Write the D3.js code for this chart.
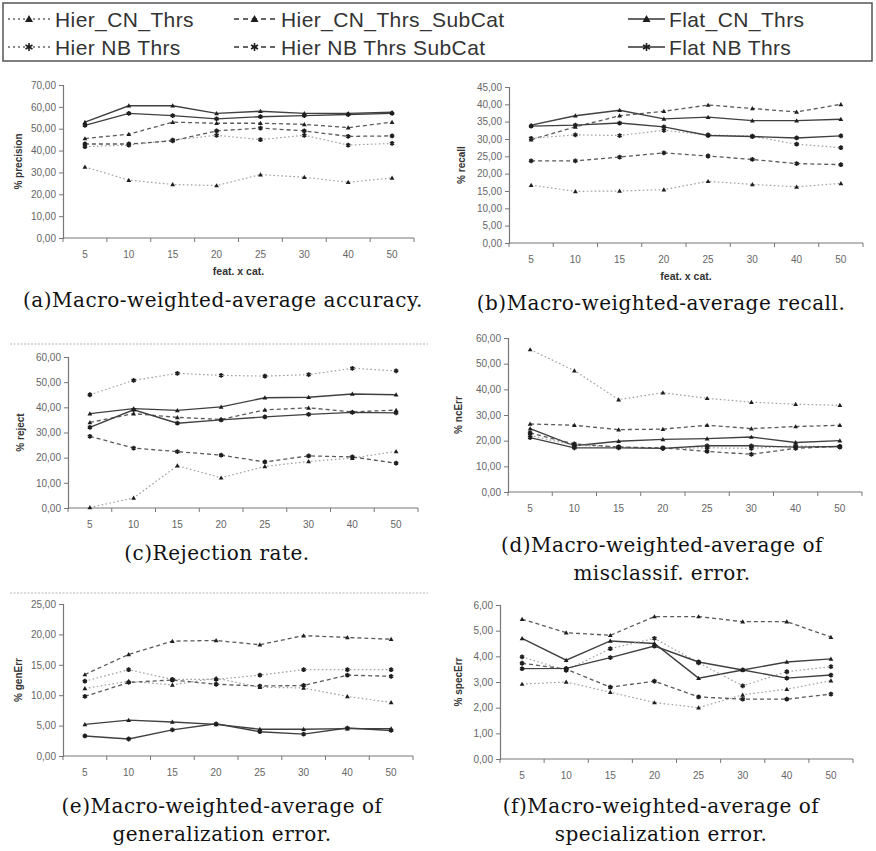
<!DOCTYPE html>
<html>
<head>
<meta charset="utf-8">
<script src="https://cdn.jsdelivr.net/npm/d3@7"></script>
<style>
  body { margin: 0; background: #fff; }
  svg { display: block; }
</style>
</head>
<body>
<svg id="fig" width="876" height="851"></svg>
<script>
// Feature-per-category settings on the x axis
const categories = ["5", "10", "15", "20", "25", "30", "40", "50"];

// Series order used by every value table below
const seriesNames = ["Hier_CN_Thrs", "Hier_CN_Thrs_SubCat", "Flat_CN_Thrs",
                     "Hier_NB_Thrs", "Hier_NB_Thrs_SubCat", "Flat_NB_Thrs"];
const legendLabels = ["Hier_CN_Thrs", "Hier_CN_Thrs_SubCat", "Flat_CN_Thrs",
                      "Hier NB Thrs", "Hier NB Thrs SubCat", "Flat NB Thrs"];

// (a) % precision
const precision = [
  [32.5, 26.5, 24.5, 24.0, 29.0, 27.8, 25.5, 27.5],
  [45.5, 47.5, 53.0, 52.5, 52.5, 52.0, 50.5, 53.0],
  [53.0, 60.5, 60.5, 57.0, 58.0, 57.0, 57.0, 57.5],
  [41.8, 42.5, 44.8, 47.0, 45.0, 47.0, 42.5, 43.3],
  [43.0, 43.0, 44.5, 49.0, 50.3, 49.0, 46.5, 46.7],
  [51.5, 57.0, 56.0, 54.5, 55.5, 56.0, 56.5, 57.0]
];
// (b) % recall
const recall = [
  [16.7, 14.9, 15.0, 15.4, 17.8, 16.9, 16.2, 17.2],
  [29.8, 33.5, 36.7, 38.0, 39.8, 38.8, 37.8, 40.0],
  [34.0, 36.7, 38.3, 35.8, 36.3, 35.3, 35.3, 35.7],
  [30.2, 31.2, 31.0, 32.5, 31.2, 30.8, 28.5, 27.5],
  [23.7, 23.7, 24.8, 26.0, 25.1, 24.1, 22.9, 22.6],
  [33.7, 34.0, 34.6, 33.5, 31.0, 30.7, 30.3, 30.9]
];
// (c) % reject
const reject = [
  [0.2, 4.0, 16.8, 12.0, 16.5, 18.5, 19.8, 22.5],
  [34.0, 37.5, 36.0, 35.2, 39.0, 39.8, 38.2, 38.9],
  [37.5, 39.5, 38.8, 40.2, 43.8, 44.0, 45.3, 45.0],
  [45.0, 50.7, 53.5, 52.7, 52.4, 53.0, 55.5, 54.5],
  [28.5, 23.8, 22.4, 21.0, 18.3, 20.7, 20.3, 17.8],
  [32.0, 39.0, 33.7, 35.0, 36.2, 37.2, 38.0, 37.8]
];
// (d) % ncErr
const ncErr = [
  [55.5, 47.3, 36.0, 38.7, 36.5, 35.0, 34.2, 33.8],
  [26.5, 26.0, 24.3, 24.5, 26.0, 24.7, 25.5, 26.0],
  [24.7, 18.0, 19.8, 20.5, 20.8, 21.4, 19.3, 20.0],
  [22.0, 18.2, 17.6, 17.0, 17.2, 17.0, 18.0, 17.5],
  [23.0, 18.7, 17.5, 17.2, 15.8, 14.7, 17.0, 17.8],
  [21.2, 17.2, 17.2, 17.0, 18.0, 18.0, 17.5, 17.7]
];
// (e) % genErr
const genErr = [
  [11.1, 12.3, 11.7, 12.8, 11.3, 11.2, 9.8, 8.8],
  [13.4, 16.7, 18.9, 19.0, 18.3, 19.8, 19.5, 19.2],
  [5.2, 5.9, 5.6, 5.2, 4.4, 4.4, 4.5, 4.5],
  [12.3, 14.2, 12.6, 12.6, 13.3, 14.2, 14.2, 14.2],
  [9.8, 12.1, 12.5, 11.8, 11.5, 11.6, 13.3, 13.1],
  [3.3, 2.8, 4.3, 5.3, 4.0, 3.6, 4.6, 4.2]
];
// (f) % specErr
const specErr = [
  [2.92, 3.00, 2.60, 2.20, 2.00, 2.50, 2.72, 3.05],
  [5.45, 4.92, 4.82, 5.55, 5.55, 5.35, 5.35, 4.75],
  [4.70, 3.85, 4.60, 4.50, 3.15, 3.47, 3.78, 3.90],
  [3.98, 3.45, 4.30, 4.70, 3.75, 2.85, 3.40, 3.60],
  [3.73, 3.50, 2.80, 3.03, 2.42, 2.33, 2.33, 2.53],
  [3.52, 3.53, 3.95, 4.40, 3.78, 3.47, 3.15, 3.27]
];

// y-axis tick values for each panel
const precisionTicks = [0, 10, 20, 30, 40, 50, 60, 70];
const recallTicks = [0, 5, 10, 15, 20, 25, 30, 35, 40, 45];
const rejectTicks = [0, 10, 20, 30, 40, 50, 60];
const ncErrTicks = [0, 10, 20, 30, 40, 50, 60];
const genErrTicks = [0, 5, 10, 15, 20, 25];
const specErrTicks = [0, 1, 2, 3, 4, 5, 6];

// Line style per series: Hier = dotted, SubCat = dashed, Flat = solid
const styleOf = i => {
  const kind = i % 3;
  if (kind === 0) return { stroke: "#a0a0a0", dash: "1.6,2.4", width: 1.2 };
  if (kind === 1) return { stroke: "#5a5a5a", dash: "4,3", width: 1.3 };
  return { stroke: "#404040", dash: null, width: 1.4 };
};
const isNB = i => i >= 3;

const commaFmt = d3.formatLocale({ decimal: ",", thousands: ".", grouping: [3], currency: ["", ""] }).format(".2f");

const svg = d3.select("#fig");

// Draw a marker (triangle for CN, asterisk for NB) at x,y
function marker(g, x, y, nb, r) {
  if (nb) {
    const a = r * 0.87, b = r * 0.5;
    g.append("path")
      .attr("d", `M${x},${y - r}L${x},${y + r}M${x - a},${y - b}L${x + a},${y + b}M${x - a},${y + b}L${x + a},${y - b}`)
      .attr("stroke", "#1e1e1e").attr("stroke-width", 1.6).attr("fill", "none");
  } else {
    g.append("path")
      .attr("d", `M${x},${y - r}L${x + r},${y + r * 0.75}L${x - r},${y + r * 0.75}Z`)
      .attr("fill", "#1e1e1e");
  }
}

// ---------- Legend ----------
const legend = svg.append("g");
legend.append("rect").attr("x", 3).attr("y", 3).attr("width", 869).attr("height", 58)
  .attr("fill", "#fff").attr("stroke", "#555").attr("stroke-width", 1.5);
const legCols = [{ x0: 8, x1: 50, tx: 55 }, { x0: 234, x1: 275, tx: 281 }, { x0: 628, x1: 665, tx: 669 }];
const legRows = [19, 47];
legendLabels.forEach((lab, i) => {
  const c = legCols[i % 3], ry = legRows[Math.floor(i / 3)];
  legend.append("line").attr("x1", c.x0).attr("x2", c.x1).attr("y1", ry).attr("y2", ry)
    .attr("stroke", i % 3 === 0 ? "#666" : "#333").attr("stroke-width", 1.5)
    .attr("stroke-dasharray", i % 3 === 0 ? "2,3" : (i % 3 === 1 ? "5,4" : null));
  marker(legend, (c.x0 + c.x1) / 2, ry, isNB(i), 4);
  legend.append("text").attr("x", c.tx).attr("y", ry + 8)
    .attr("font-family", "Liberation Sans, Arial, sans-serif").attr("font-size", 21)
    .attr("letter-spacing", 0.4).attr("fill", "#333").text(lab);
});

// ---------- Panels ----------
const panels = [
  { values: precision, ticks: precisionTicks, max: 70, x0: 63, x1: 414, yb: 238, yt: 85, title: "% precision", tx: 18, xTitle: true,
    caption: ["(a)Macro-weighted-average accuracy."], cx: 223, cy: 307 },
  { values: recall, ticks: recallTicks, max: 45, x0: 509, x1: 863, yb: 243, yt: 87, title: "% recall", tx: 461, xTitle: true,
    caption: ["(b)Macro-weighted-average recall."], cx: 661, cy: 310 },
  { values: reject, ticks: rejectTicks, max: 60, x0: 68, x1: 418, yb: 508, yt: 357, title: "% reject", tx: 20, xTitle: false,
    caption: ["(c)Rejection rate."], cx: 217, cy: 560, topRule: 344 },
  { values: ncErr, ticks: ncErrTicks, max: 60, x0: 508, x1: 862, yb: 492, yt: 338, title: "% ncErr", tx: 458, xTitle: false,
    caption: ["(d)Macro-weighted-average of", "misclassif. error."], cx: 662, cy: 552 },
  { values: genErr, ticks: genErrTicks, max: 25, x0: 63, x1: 413, yb: 756, yt: 604, title: "% genErr", tx: 18, xTitle: false,
    caption: ["(e)Macro-weighted-average of", "generalization error."], cx: 222, cy: 813, topRule: 593 },
  { values: specErr, ticks: specErrTicks, max: 6, x0: 500, x1: 853, yb: 759, yt: 605, title: "% specErr", tx: 458, xTitle: false,
    caption: ["(f)Macro-weighted-average of", "specialization error."], cx: 661, cy: 813 }
];

const axisFont = "Liberation Sans, Arial, sans-serif";

panels.forEach(p => {
  const g = svg.append("g");
  const x = d3.scaleBand().domain(categories).range([p.x0, p.x1]);
  const y = d3.scaleLinear().domain([0, p.max]).range([p.yb, p.yt]);

  if (p.topRule) {
    g.append("line").attr("x1", 10).attr("x2", 428).attr("y1", p.topRule).attr("y2", p.topRule)
      .attr("stroke", "#b5b5b5").attr("stroke-width", 1.2).attr("stroke-dasharray", "2,1.5");
  }

  // y axis with outward ticks and comma-decimal labels
  const yAxis = d3.axisLeft(y).tickValues(p.ticks).tickSize(4).tickPadding(3).tickFormat(commaFmt);
  const ya = g.append("g").attr("transform", `translate(${p.x0},0)`).call(yAxis);
  ya.select(".domain").attr("stroke", "#777").attr("stroke-width", 1.2);
  ya.selectAll(".tick line").attr("stroke", "#777");
  ya.selectAll(".tick text").attr("font-family", axisFont).attr("font-size", 10).attr("fill", "#666");

  // x axis: category labels, tick marks between categories
  const xa = g.append("g").attr("transform", `translate(0,${p.yb})`);
  xa.append("line").attr("x1", p.x0).attr("x2", p.x1).attr("stroke", "#777").attr("stroke-width", 1.2);
  d3.range(categories.length + 1).forEach(k => {
    const bx = p.x0 + k * x.step();
    xa.append("line").attr("x1", bx).attr("x2", bx).attr("y1", 0).attr("y2", 4).attr("stroke", "#777");
  });
  xa.selectAll("text.cat").data(categories).join("text").attr("class", "cat")
    .attr("x", d => x(d) + x.bandwidth() / 2).attr("y", 20)
    .attr("text-anchor", "middle").attr("font-family", axisFont).attr("font-size", 10).attr("fill", "#666")
    .text(d => d);

  if (p.xTitle) {
    g.append("text").attr("x", (p.x0 + p.x1) / 2).attr("y", p.yb + 37).attr("text-anchor", "middle")
      .attr("font-family", axisFont).attr("font-size", 10.5).attr("font-weight", "bold").attr("fill", "#333")
      .text("feat. x cat.");
  }
  g.append("text").attr("transform", `translate(${p.tx + 4},${(p.yb + p.yt) / 2}) rotate(-90)`)
    .attr("text-anchor", "middle").attr("font-family", axisFont).attr("font-size", 10).attr("font-weight", "bold")
    .attr("fill", "#333").text(p.title);

  // series lines and markers
  const line = d3.line().x((d, k) => x(categories[k]) + x.bandwidth() / 2).y(d => y(d));
  p.values.forEach((vals, i) => {
    const st = styleOf(i);
    g.append("path").datum(vals).attr("d", line).attr("fill", "none")
      .attr("stroke", st.stroke).attr("stroke-width", st.width).attr("stroke-dasharray", st.dash);
  });
  p.values.forEach((vals, i) => {
    vals.forEach((v, k) => marker(g, x(categories[k]) + x.bandwidth() / 2, y(v), isNB(i), 2.4));
  });

  // caption
  p.caption.forEach((line, li) => {
    g.append("text").attr("x", p.cx).attr("y", p.cy + li * 28).attr("text-anchor", "middle")
      .attr("font-family", "DejaVu Serif, serif").attr("font-size", 20).attr("letter-spacing", 0.5)
      .attr("fill", "#111").text(line);
  });
});
</script>
</body>
</html>
